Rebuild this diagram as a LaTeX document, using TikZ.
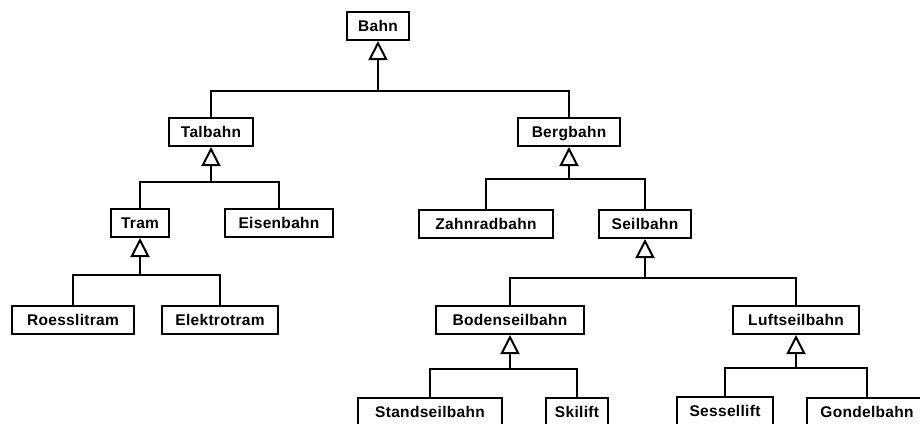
\documentclass[tikz,border=0pt]{standalone}
\usepackage{fontspec}
\setmainfont{Liberation Sans}[LetterSpace=2]
\usetikzlibrary{arrows.meta}
\tikzset{
  cls/.style={draw, line width=2pt, fill=white, inner sep=0pt, minimum height=28pt,
    text height=11.5pt, text depth=0pt, font=\fontsize{15.5pt}{17pt}\selectfont\bfseries},
  branch/.style={line width=2pt},
  gen/.style={line width=2.6pt, -{Triangle[open, length=19pt, width=19pt, line width=2pt]}}
}
\begin{document}
\begin{tikzpicture}[x=1pt, y=-1pt]
\clip (0,0) rectangle (920,423);
\fill[white] (0,0) rectangle (920,423);
% classes
\node[cls, minimum width=62pt]  (bahn)   at (378,26)  {Bahn};
\node[cls, minimum width=84pt]  (tal)    at (211,132) {Talbahn};
\node[cls, minimum width=102pt] (berg)   at (569,132) {Bergbahn};
\node[cls, minimum width=58pt]  (tram)   at (140,223) {Tram};
\node[cls, minimum width=108pt] (eisen)  at (279,223) {Eisenbahn};
\node[cls, minimum width=134pt] (zahn)   at (486,224) {Zahnradbahn};
\node[cls, minimum width=92pt]  (seil)   at (645,224) {Seilbahn};
\node[cls, minimum width=122pt] (roess)  at (73,320)  {Roesslitram};
\node[cls, minimum width=116pt] (elek)   at (220,320) {Elektrotram};
\node[cls, minimum width=148pt] (boden)  at (510,320) {Bodenseilbahn};
\node[cls, minimum width=126pt] (luft)   at (796,320) {Luftseilbahn};
\node[cls, minimum width=144pt] (stand)  at (430,412) {Standseilbahn};
\node[cls, minimum width=62pt]  (ski)    at (577,412) {Skilift};
\node[cls, minimum width=96pt]  (sessel) at (725,411) {Sessellift};
\node[cls, minimum width=120pt] (gondel) at (867,412) {Gondelbahn};
% junction points on the bars
\coordinate (jbahn)  at (378,91);
\coordinate (jtal)   at (211,182);
\coordinate (jberg)  at (569,179);
\coordinate (jtram)  at (140,275);
\coordinate (jseil)  at (645,278);
\coordinate (jboden) at (510,369);
\coordinate (jluft)  at (796,368);
% branches
\draw[branch] (tal.north) |- (jbahn) -| (berg.north);
\draw[branch] (tram.north) |- (jtal) -| (eisen.north);
\draw[branch] (zahn.north) |- (jberg) -| (seil.north);
\draw[branch] (roess.north) |- (jtram) -| (elek.north);
\draw[branch] (boden.north) |- (jseil) -| (luft.north);
\draw[branch] (stand.north) |- (jboden) -| (ski.north);
\draw[branch] (sessel.north) |- (jluft) -| (gondel.north);
% generalisation arrows
\draw[gen] (jbahn) -- (bahn.south);
\draw[gen] (jtal) -- (tal.south);
\draw[gen] (jberg) -- (berg.south);
\draw[gen] (jtram) -- (tram.south);
\draw[gen] (jseil) -- (seil.south);
\draw[gen] (jboden) -- (boden.south);
\draw[gen] (jluft) -- (luft.south);
\end{tikzpicture}
\end{document}
